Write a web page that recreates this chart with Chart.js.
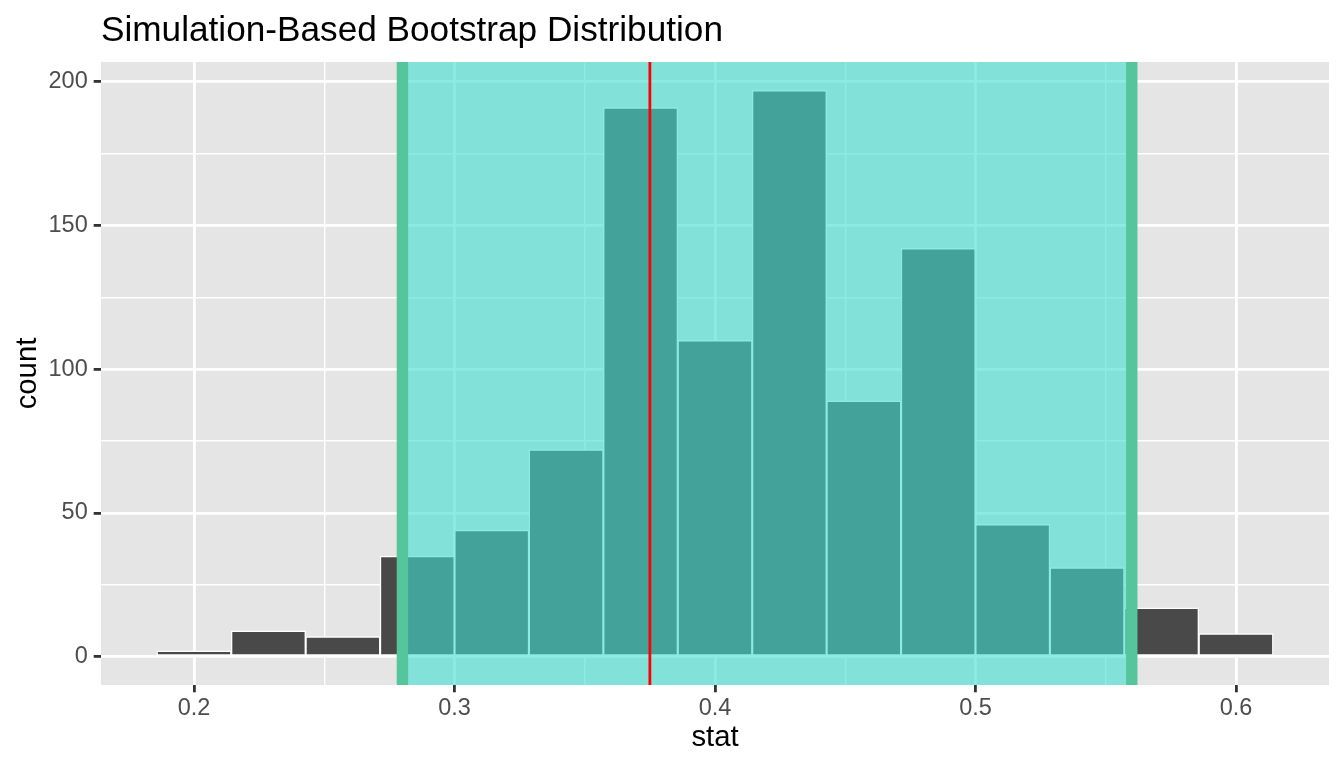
<!DOCTYPE html>
<html>
<head>
<meta charset="utf-8">
<script src="https://cdn.jsdelivr.net/npm/chart.js@4.4.1/dist/chart.umd.min.js"></script>
<style>
  html, body { margin: 0; padding: 0; background: #ffffff; }
  #wrap { width: 1344px; height: 768px; }
</style>
</head>
<body>
<div id="wrap"><canvas id="chart" width="1344" height="768"></canvas></div>
<script>
// histogram bins (centers) and counts
var binCenters = [0.2, 0.228571, 0.257143, 0.285714, 0.314286, 0.342857, 0.371429, 0.4,
  0.428571, 0.457143, 0.485714, 0.514286, 0.542857, 0.571429, 0.6];
var counts = [2, 9, 7, 35, 44, 72, 191, 110, 197, 89, 142, 46, 31, 17, 8];

// confidence interval endpoints and point estimate
var ciEndpoints = [0.28, 0.56];
var pointEstimate = 0.375;

// axis ticks
var xMajor = [0.2, 0.3, 0.4, 0.5, 0.6];
var xMinor = [0.25, 0.35, 0.45, 0.55];
var yMajor = [0, 50, 100, 150, 200];
var yMinor = [25, 75, 125, 175];

var xMin = 0.164286, xMax = 0.635714;
var yMin = -9.85, yMax = 206.85;

var FONT = "'Liberation Sans', Arial, Helvetica, sans-serif";

var panelBg = {
  id: "panelBg",
  beforeDraw: function (chart) {
    var a = chart.chartArea;
    var c = chart.ctx;
    c.save();
    c.fillStyle = "#E5E5E5";
    c.fillRect(a.left, a.top, a.right - a.left, a.bottom - a.top);
    c.restore();
  },
};

function allTicks(major, minor) {
  return major.concat(minor).sort(function (a, b) { return a - b; })
    .map(function (v) { return { value: v }; });
}

var ctx = document.getElementById("chart").getContext("2d");

var chart = new Chart(ctx, {
  type: "bar",
  data: {
    datasets: [
      {
        type: "line",
        label: "estimate",
        data: [{ x: pointEstimate, y: yMin }, { x: pointEstimate, y: yMax }],
        borderColor: "#FF0000",
        borderWidth: 2.8,
        pointRadius: 0,
        fill: false,
        order: 1,
      },
      {
        type: "line",
        label: "ci low",
        data: [{ x: ciEndpoints[0], y: yMin }, { x: ciEndpoints[0], y: yMax }],
        borderColor: "#56C59B",
        borderWidth: 11.4,
        pointRadius: 0,
        fill: false,
        order: 2,
      },
      {
        type: "line",
        label: "ci high",
        data: [{ x: ciEndpoints[1], y: yMin }, { x: ciEndpoints[1], y: yMax }],
        borderColor: "#56C59B",
        borderWidth: 11.4,
        pointRadius: 0,
        fill: false,
        order: 2,
      },
      {
        type: "line",
        label: "ci shade",
        data: [{ x: ciEndpoints[0], y: yMax }, { x: ciEndpoints[1], y: yMax }],
        borderWidth: 0,
        borderColor: "rgba(0,0,0,0)",
        backgroundColor: "rgba(64,224,208,0.6)",
        pointRadius: 0,
        fill: "start",
        order: 3,
      },
      {
        label: "count",
        data: binCenters.map(function (x, i) { return { x: x, y: counts[i] }; }),
        backgroundColor: "#494949",
        borderColor: "#FFFFFF",
        borderWidth: 1.4,
        borderSkipped: false,
        barPercentage: 1,
        categoryPercentage: 1,
        order: 4,
      },
    ],
  },
  options: {
    responsive: false,
    animation: false,
    layout: { padding: { left: 0, right: 15, top: 0, bottom: 0 } },
    plugins: {
      legend: { display: false },
      tooltip: { enabled: false },
      title: {
        display: true,
        text: "Simulation-Based Bootstrap Distribution",
        align: "start",
        fullSize: false,
        color: "#000000",
        font: { family: FONT, size: 35.2, weight: "normal" },
        padding: { top: 10, bottom: 9.76 },
      },
    },
    scales: {
      x: {
        type: "linear",
        min: xMin,
        max: xMax,
        offset: false,
        afterBuildTicks: function (scale) { scale.ticks = allTicks(xMajor, xMinor); },
        afterFit: function (scale) { scale.height = 83; },
        border: { display: false },
        grid: {
          offset: false,
          color: "#FFFFFF",
          lineWidth: function (c) { return xMajor.indexOf(c.tick.value) >= 0 ? 2.8 : 1.4; },
          tickLength: 7.3,
          tickWidth: 2.8,
          tickColor: function (c) { return xMajor.indexOf(c.tick.value) >= 0 ? "#333333" : "rgba(0,0,0,0)"; },
        },
        ticks: {
          autoSkip: false,
          maxRotation: 0,
          padding: 2,
          color: "#4D4D4D",
          font: { family: FONT, size: 23.5 },
          callback: function (v) { return xMajor.indexOf(v) >= 0 ? String(v) : ""; },
        },
        title: {
          display: true,
          text: "stat",
          color: "#000000",
          font: { family: FONT, size: 29.3 },
          padding: { top: 0, bottom: 13 },
        },
      },
      y: {
        type: "linear",
        min: yMin,
        max: yMax,
        afterBuildTicks: function (scale) { scale.ticks = allTicks(yMajor, yMinor); },
        afterFit: function (scale) { scale.width = 101; },
        border: { display: false },
        grid: {
          color: "#FFFFFF",
          lineWidth: function (c) { return yMajor.indexOf(c.tick.value) >= 0 ? 2.8 : 1.4; },
          tickLength: 7.3,
          tickWidth: 2.8,
          tickColor: function (c) { return yMajor.indexOf(c.tick.value) >= 0 ? "#333333" : "rgba(0,0,0,0)"; },
        },
        ticks: {
          autoSkip: false,
          padding: 6,
          color: "#4D4D4D",
          font: { family: FONT, size: 23.5 },
          callback: function (v) { return yMajor.indexOf(v) >= 0 ? String(v) : ""; },
        },
        title: {
          display: true,
          text: "count",
          color: "#000000",
          font: { family: FONT, size: 29.3 },
          padding: { top: 10, bottom: 0 },
        },
      },
    },
  },
  plugins: [panelBg],
});
</script>
</body>
</html>
